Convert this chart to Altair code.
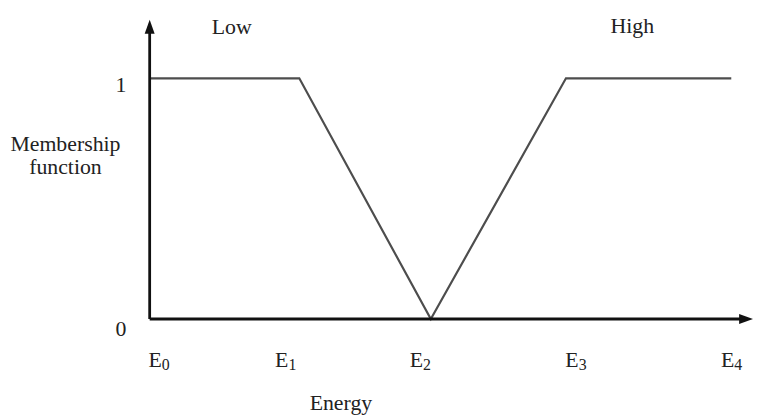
import altair as alt
import pandas as pd

# Membership function breakpoints (energy in arbitrary units 0..100, membership 0..1)
mf_energy = [0, 24.8, 46.6, 69.0, 96.4]
mf_value = [1, 1, 0, 1, 1]

# Tick labels E0..E4 on the energy axis
tick_pos = [2.0, 23.0, 45.3, 71.1, 96.9]
tick_main = ["E", "E", "E", "E", "E"]
tick_sub = ["0", "1", "2", "3", "4"]
tick_y = [-0.1975] * 5
tick_sub_y = [-0.21] * 5

# Membership tick labels
y_labels = ["1", "0"]
y_label_vals = [0.971, -0.041]
y_label_x = [-4.76, -4.76]

# Fuzzy set names
set_names = ["Low", "High"]
set_x = [13.6, 80.0]
set_y = [1.214, 1.218]

# Axis titles
ylab_lines = ["Membership", "function"]
ylab_x = [-13.96, -13.96]
ylab_y = [0.728, 0.630]
xlab = ["Energy"]
xlab_x = [31.7]
xlab_y = [-0.35]

X_MAX = 100
Y_MAX = 1.243

xs = alt.Scale(domain=[0, X_MAX], nice=False, zero=False)
ys = alt.Scale(domain=[0, Y_MAX], nice=False, zero=False)
FONT = "Liberation Serif"
TXT = "#222222"
FS = 22

def X(field="x"):
    return alt.X(f"{field}:Q", scale=xs, axis=None)

def Y(field="y"):
    return alt.Y(f"{field}:Q", scale=ys, axis=None)

mf_df = pd.DataFrame({"x": mf_energy, "y": mf_value})
line = alt.Chart(mf_df).mark_line(color="#4d4d4d", strokeWidth=2.2).encode(x=X(), y=Y())

axes_df = pd.DataFrame({"x": [0, 0], "x2": [0, X_MAX - 2], "y": [0, 0], "y2": [Y_MAX - 0.05, 0]})
axes = alt.Chart(axes_df).mark_rule(color="#111111", strokeWidth=2.8).encode(
    x=X(), x2="x2:Q", y=Y(), y2="y2:Q")

up_df = pd.DataFrame({"x": [0], "y": [Y_MAX]})
up_arrow = alt.Chart(up_df).mark_point(
    shape="M0,0L0.72,2L-0.72,2Z", size=196, filled=True, color="#111111", opacity=1
).encode(x=X(), y=Y())

right_df = pd.DataFrame({"x": [X_MAX], "y": [0]})
right_arrow = alt.Chart(right_df).mark_point(
    shape="M0,0L-2,0.72L-2,-0.72Z", size=196, filled=True, color="#111111", opacity=1
).encode(x=X(), y=Y())

tick_df = pd.DataFrame({"x": tick_pos, "y": tick_y, "t": tick_main, "ys": tick_sub_y, "s": tick_sub})
tick_main_txt = alt.Chart(tick_df).mark_text(
    font=FONT, fontSize=FS, color=TXT, align="right", baseline="alphabetic"
).encode(x=X(), y=Y(), text="t:N")
tick_sub_txt = alt.Chart(tick_df).mark_text(
    font=FONT, fontSize=16, color=TXT, align="left", baseline="alphabetic"
).encode(x=X(), y=Y("ys"), text="s:N")

ylab_df = pd.DataFrame({"x": y_label_x, "y": y_label_vals, "t": y_labels})
ylab_txt = alt.Chart(ylab_df).mark_text(
    font=FONT, fontSize=FS, color=TXT, align="center", baseline="middle"
).encode(x=X(), y=Y(), text="t:N")

set_df = pd.DataFrame({"x": set_x, "y": set_y, "t": set_names})
set_txt = alt.Chart(set_df).mark_text(
    font=FONT, fontSize=FS, color=TXT, align="center", baseline="middle"
).encode(x=X(), y=Y(), text="t:N")

ytitle_df = pd.DataFrame({"x": ylab_x, "y": ylab_y, "t": ylab_lines})
ytitle_txt = alt.Chart(ytitle_df).mark_text(
    font=FONT, fontSize=FS, color=TXT, align="center", baseline="middle"
).encode(x=X(), y=Y(), text="t:N")

xtitle_df = pd.DataFrame({"x": xlab_x, "y": xlab_y, "t": xlab})
xtitle_txt = alt.Chart(xtitle_df).mark_text(
    font=FONT, fontSize=FS, color=TXT, align="center", baseline="middle"
).encode(x=X(), y=Y(), text="t:N")

chart = alt.layer(
    line, axes, up_arrow, right_arrow, tick_main_txt, tick_sub_txt,
    ylab_txt, set_txt, ytitle_txt, xtitle_txt
).properties(
    width=609, height=302,
    padding={"left": 143, "top": 10, "right": 0, "bottom": 97},
    autosize=alt.AutoSizeParams(type="none"),
    background="white",
).configure_view(stroke=None)

chart.save("out.html", embed_options={"renderer": "svg", "actions": False})
